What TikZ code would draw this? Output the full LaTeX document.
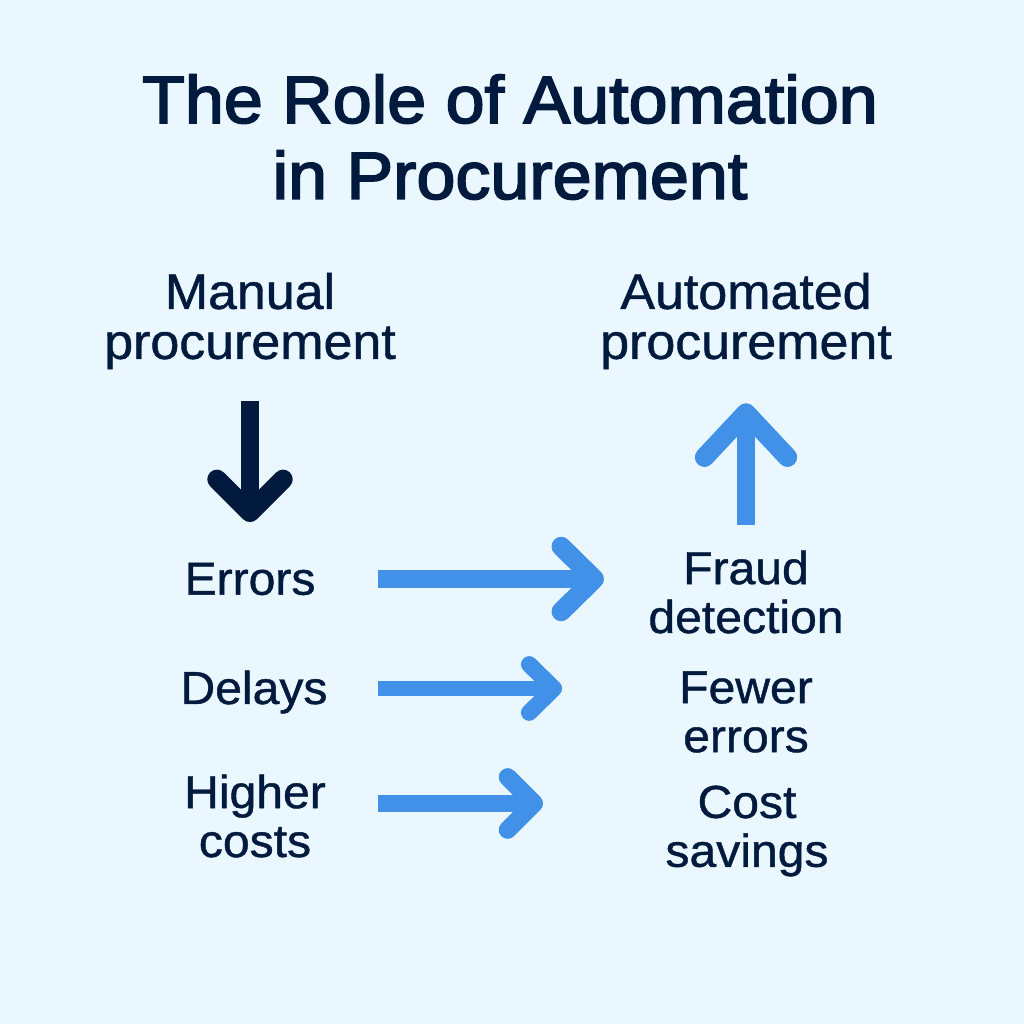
\documentclass[tikz,border=0pt]{standalone}
\usepackage{fontspec}
\setmainfont{Liberation Sans}
\newfontfamily\titlefont[FakeBold=2.6,FakeStretch=1.048]{Liberation Sans}
\newfontfamily\labelfont[FakeBold=0.9,FakeStretch=1.04]{Liberation Sans}
\usepackage{xcolor}
\usetikzlibrary{arrows.meta,calc}
\definecolor{navy}{HTML}{021A3D}
\definecolor{flowblue}{HTML}{4291E9}
\definecolor{paper}{HTML}{EAF7FE}
\tikzset{
  titletext/.style={text=navy, font=\fontsize{19}{21.6}\titlefont, align=center, inner sep=0pt},
  headtext/.style={text=navy, font=\fontsize{14.2}{14.2}\labelfont, align=center, inner sep=0pt},
  label/.style={text=navy, font=\fontsize{13.15}{13.9}\labelfont, align=center, inner sep=0pt},
  bigtip/.style n args={3}{-{Straight Barb[length=#1,width=#2,round,line width=#3+0.4pt]}, line width=#3}
}
\begin{document}
\begin{tikzpicture}[x=0.01cm,y=-0.01cm]
  % Background
  \fill[paper] (0,0) rectangle (1024,1024);
  \useasboundingbox (0,0) rectangle (1024,1024);

  % Title
  \node[titletext] (title) at (510,137) {The Role of Automation\\in Procurement};

  % Column heads
  \node[headtext] (manual) at (250,321) {Manual\\procurement};
  \node[headtext] (automated) at (746,321) {Automated\\procurement};

  % Left column
  \node[label] (errors) at (250,579) {Errors};
  \node[label] (delays) at (254,692) {Delays};
  \node[label] (costs) at (255,816) {Higher\\costs};

  % Right column
  \node[label] (fraud) at (746,592) {Fraud\\detection};
  \node[label] (fewer) at (746,712) {Fewer\\errors};
  \node[label] (savings) at (747,831) {Cost\\savings};

  % Vertical arrows
  \draw[bigtip={9.4pt}{18.8pt}{5.1pt}, navy, shorten <=22.8pt, shorten >=16.2pt] (manual.center) -- (errors.center);
  \draw[bigtip={12.6pt}{23.6pt}{5.1pt}, flowblue, shorten <=19.06pt, shorten >=23.4pt] (fraud.center) -- (automated.center);

  % Horizontal arrows
  \draw[bigtip={9.4pt}{18.5pt}{5.1pt}, flowblue, shorten <=36.4pt, shorten >=40.4pt] (errors.center) -- (errors.center -| fraud.center);
  \draw[bigtip={7pt}{13.7pt}{4.3pt}, flowblue, shorten <=35.3pt, shorten >=52.3pt] ([yshift=1pt]delays.center) -- ([yshift=1pt]delays.center -| fewer.center);
  \draw[bigtip={7.5pt}{15pt}{4.7pt}, flowblue, shorten <=35pt, shorten >=58pt] ([yshift=3.56pt]costs.center) -- ([yshift=3.56pt]costs.center -| savings.center);
\end{tikzpicture}
\end{document}
